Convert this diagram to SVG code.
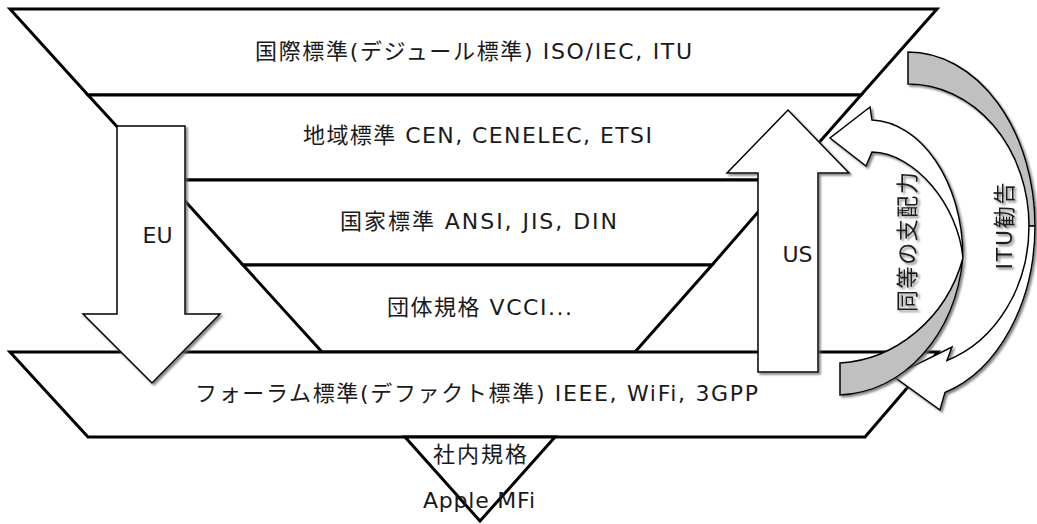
<svg xmlns="http://www.w3.org/2000/svg" width="1037" height="524" viewBox="0 0 1037 524">
  <style>
    .lvl { fill: #ffffff; stroke: #000000; stroke-width: 3; stroke-linejoin: miter; }
    .arr { fill: #ffffff; stroke: #000000; stroke-width: 1.5; stroke-linejoin: miter; }
    .back { fill: #c0c0c0; stroke: #000000; stroke-width: 1.5; }
    .t { font-family: "DejaVu Sans", "Noto Sans CJK JP", sans-serif; font-size: 22px; fill: #1a1a1a; text-anchor: middle; }
  </style>
  <defs>
    <filter id="sh" x="-20%" y="-20%" width="140%" height="140%">
      <feDropShadow dx="2" dy="2" stdDeviation="1" flood-color="#666666" flood-opacity="0.8"/>
    </filter>
  </defs>
  <rect width="1037" height="524" fill="#ffffff"/>

  <g id="level-international">
    <polygon class="lvl" points="10,9 937,9 861,95 88,95"/>
  </g>
  <g id="level-regional">
    <polygon class="lvl" points="88,95 861,95 786,180 166,180"/>
  </g>
  <g id="level-national">
    <polygon class="lvl" points="166,180 786,180 712,265 243,265"/>
  </g>
  <g id="level-association">
    <polygon class="lvl" points="243,265 712,265 635,352 322,352"/>
  </g>
  <g id="level-forum">
    <polygon class="lvl" points="10,352 938,352 865,437 88,437"/>
  </g>
  <g id="level-inhouse">
    <polygon class="lvl" points="405,437 555,437 480,521"/>
  </g>

  <g id="connectors">
    <g id="arrow-eu" filter="url(#sh)">
      <path class="arr" d="M117,126 H185 V314 H220 L152,383 L83,314 H117 Z"/>
    </g>
    <g id="arrow-us" filter="url(#sh)">
      <path class="arr" d="M758,372 V173 H727 L788,110 L849,173 H818 V372 Z"/>
    </g>
    <g id="arrow-itu" filter="url(#sh)">
      <path class="back" d="M908,52 A127,174 0 0 1 1035,226 L1029,226 A121,142 0 0 0 908,84 Z"/>
      <path class="arr" d="M1035,226 A127,174 0 0 1 945,392.5 L940,410 L893,376 L952,347 L947,360.5 A121,142 0 0 0 1029,226 Z"/>
    </g>
    <g id="arrow-equal" filter="url(#sh)">
      <path class="arr" d="M872,120 L870,107 L830,138 L866,166 L872,152 C915,153 958,205 963,258 C963,180 920,122 872,120 Z"/>
      <path class="back" d="M840,363 L840,395 C905,392 955,335 963,258 C946,320 894,360 840,363 Z"/>
    </g>
  </g>

  <g id="labels">
    <text class="t" x="473.5" y="59" textLength="437" lengthAdjust="spacing">国際標準(デジュール標準) ISO/IEC, ITU</text>
    <text class="t" x="477.5" y="143" textLength="349" lengthAdjust="spacing">地域標準 CEN, CENELEC, ETSI</text>
    <text class="t" x="478.5" y="229" textLength="277" lengthAdjust="spacing">国家標準 ANSI, JIS, DIN</text>
    <text class="t" x="479.5" y="315" textLength="185" lengthAdjust="spacing">団体規格 VCCI...</text>
    <text class="t" x="476.5" y="401" textLength="563" lengthAdjust="spacing">フォーラム標準(デファクト標準) IEEE, WiFi, 3GPP</text>
    <text class="t" x="480" y="462" textLength="94" lengthAdjust="spacing">社内規格</text>
    <text class="t" x="479" y="508" textLength="112" lengthAdjust="spacing">Apple MFi</text>
    <text class="t" x="157.5" y="243">EU</text>
    <text class="t" x="797.5" y="262">US</text>
    <g filter="url(#sh)">
      <text class="t" transform="translate(907,242) rotate(-90)" x="0" y="8" textLength="140" lengthAdjust="spacing">同等の支配力</text>
      <text class="t" transform="translate(1004,226) rotate(-90)" x="0" y="8" textLength="87" lengthAdjust="spacing">ITU勧告</text>
    </g>
  </g>
</svg>
